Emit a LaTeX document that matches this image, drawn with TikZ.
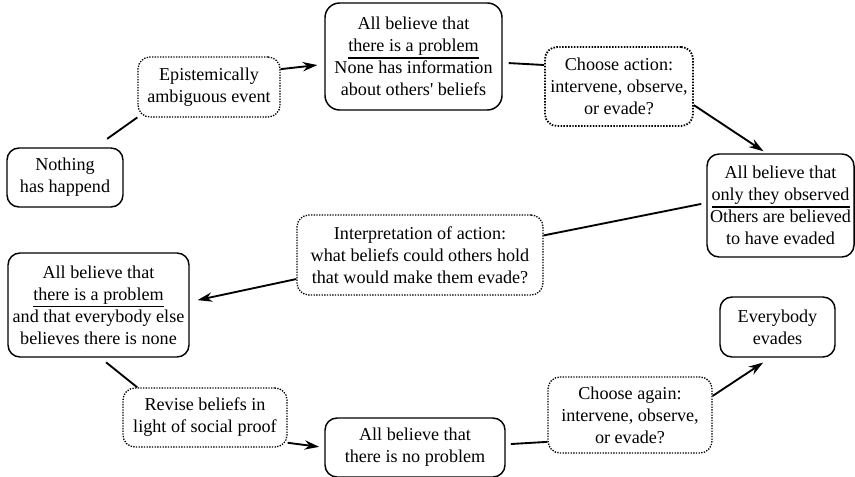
\documentclass[tikz,border=0pt]{standalone}
\usepackage{fontspec}
\setmainfont{Liberation Serif}
\usetikzlibrary{arrows.meta}
\newcommand\ruleunder[1]{\setbox0\hbox{#1}\rlap{\rule[-5.2pt]{\wd0}{0.9pt}}\box0}
\begin{document}
\begin{tikzpicture}[x=0.75pt,y=-0.75pt,
  box/.style={draw, rounded corners=9pt, line width=1.1pt, inner sep=0pt, align=center,
    font=\fontsize{13.6}{16.6}\selectfont},
  dbox/.style={box, line width=1pt, dash pattern=on 1pt off 1pt},
  conn/.style={line width=1.4pt},
  arr/.style={conn, -{Stealth[length=11pt,width=7pt]}}]
\useasboundingbox (0,0) rectangle (855,477);

\node[box, minimum width=87pt, minimum height=44.25pt] (nothing) at (65,177.5) {Nothing\\has happend};
\node[dbox, minimum width=106.5pt, minimum height=45pt] (epi) at (209,87) {Epistemically\\ambiguous event};
\node[box, rounded corners=11pt, minimum width=132.75pt, minimum height=80.25pt] (top) at (413.5,56.5) {All believe that\\\ruleunder{there is a problem}\\None has information\\about others\textquotesingle\ beliefs};
\node[dbox, line width=1.4pt, dash pattern=on 1.1pt off 1.1pt, minimum width=111pt, minimum height=59.25pt] (chooseA) at (619,86.5) {Choose action:\\intervene, observe,\\or evade?};
\node[box, minimum width=110.25pt, minimum height=77.25pt] (right) at (780.5,205.5) {All believe that\\\ruleunder{only they observed}\\Others are believed\\to have evaded};
\node[dbox, minimum width=184.5pt, minimum height=60pt] (interp) at (420,255) {Interpretation of action:\\what beliefs could others hold\\that would make them evade?};
\node[box, minimum width=135.75pt, minimum height=78pt] (left) at (98.5,305) {All believe that\\\ruleunder{there is a problem}\\and that everybody else\\believes there is none};
\node[dbox, minimum width=123pt, minimum height=44.25pt] (revise) at (205,417.5) {Revise beliefs in\\light of social proof};
\node[box, minimum width=135pt, minimum height=44.25pt] (noprob) at (415,447.5) {All believe that\\there is no problem};
\node[dbox, minimum width=123pt, minimum height=57pt] (chooseB) at (630,415) {Choose again:\\intervene, observe,\\or evade?};
\node[box, minimum width=86.25pt, minimum height=45pt] (every) at (777.5,327) {Everybody\\evades};

\draw[conn, shorten <=10.9pt] (nothing.45.6) -- (epi.203.8);
\draw[arr, shorten >=5.2pt] (epi.14.2) -- (top.185.7);
\draw[conn, shorten <=4.5pt] (top.-4.65) -- (chooseA.164.5);
\draw[arr, shorten >=2.7pt] (chooseA.-14.5) -- (right.105.7);
\draw[conn, shorten <=3.8pt] (right.178.8) -- (interp.9.2);
\draw[arr, shorten >=6pt] (interp.191.9) -- (left.2.2);
\draw[conn, shorten <=5.5pt] (left.-88) -- (revise.156.2);
\draw[arr, shorten >=3.8pt] (revise.-17.8) -- (noprob.180.6);
\draw[conn, shorten <=3.8pt] (noprob.2.9) -- (chooseB.198.2);
\draw[arr, shorten >=6.5pt] (chooseB.13.7) -- (every.257);
\end{tikzpicture}
\end{document}
